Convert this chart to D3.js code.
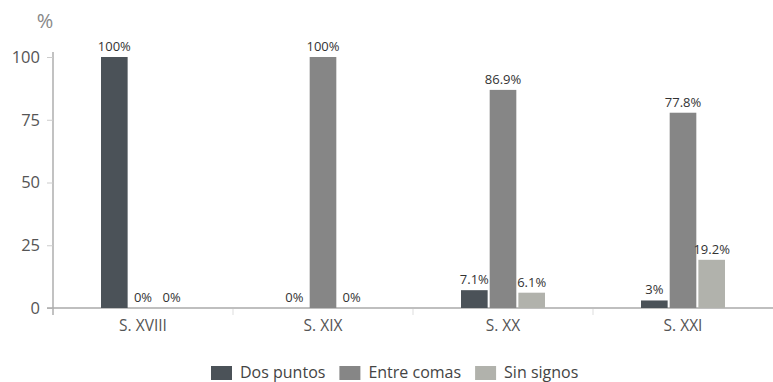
<!DOCTYPE html>
<html>
<head>
<meta charset="utf-8">
<script src="https://cdn.jsdelivr.net/npm/d3@7"></script>
<style>
  body { margin: 0; background: #fff; }
  svg { display: block; font-family: "Open Sans", sans-serif; }
</style>
</head>
<body>
<svg id="chart" width="773" height="382"></svg>
<script>
const categories = ["S. XVIII", "S. XIX", "S. XX", "S. XXI"];
const seriesNames = ["Dos puntos", "Entre comas", "Sin signos"];
const dosPuntos = [100, 0, 7.1, 3];
const entreComas = [0, 100, 86.9, 77.8];
const sinSignos = [0, 0, 6.1, 19.2];
const yTicks = [0, 25, 50, 75, 100];
const colors = ["#4b5258", "#868686", "#b1b2ac"];

const series = [dosPuntos, entreComas, sinSignos];
const svg = d3.select("#chart");

const x0 = d3.scaleBand().domain(categories).range([53, 773]).paddingInner(0).paddingOuter(0);
const y = d3.scaleLinear().domain([0, 100]).range([308, 57]);
const step = 28;
const x1 = d3.scaleBand().domain(seriesNames).range([-step * 1.5, step * 1.5]).paddingInner(2 / step).paddingOuter(0);

// y axis
const yAxis = svg.append("g").attr("transform", "translate(53,0)")
  .call(d3.axisLeft(y).tickValues(yTicks).tickSize(6).tickPadding(7).tickFormat(d3.format("d")));
yAxis.select(".domain").attr("d", "M0,52V315").attr("stroke", "#999").attr("stroke-width", 1.2);
yAxis.selectAll(".tick line").attr("stroke", "#ccc");
yAxis.selectAll(".tick text").attr("fill", "#555").style("font-size", "16.5px").attr("font-family", "'Open Sans', sans-serif");

// % label
svg.append("text").attr("x", 45).attr("y", 28).attr("text-anchor", "middle")
  .attr("fill", "#888").style("font-size", "20px").text("%");

// x axis
const xAxis = svg.append("g").attr("transform", "translate(0,308)")
  .call(d3.axisBottom(x0).tickSize(0).tickPadding(12));
xAxis.select(".domain").attr("d", "M47,0H773").attr("stroke", "#aaa").attr("stroke-width", 1.5);
xAxis.selectAll(".tick text").attr("fill", "#555").style("font-size", "15.5px").attr("font-family", "'Open Sans', sans-serif");
// boundary ticks between categories
svg.append("g").selectAll("line").data(categories.slice(1)).join("line")
  .attr("x1", d => x0(d)).attr("x2", d => x0(d))
  .attr("y1", 309).attr("y2", 315).attr("stroke", "#ddd");

// bars
const groups = svg.append("g").selectAll("g").data(categories).join("g")
  .attr("transform", d => `translate(${x0(d) + x0.bandwidth() / 2},0)`);

groups.each(function (cat, ci) {
  const g = d3.select(this);
  seriesNames.forEach((s, si) => {
    const v = series[si][ci];
    const bx = x1(s);
    g.append("rect").attr("x", bx).attr("width", x1.bandwidth())
      .attr("y", y(v)).attr("height", y(0) - y(v)).attr("fill", colors[si]);
    g.append("text").attr("x", bx + x1.bandwidth() / 2).attr("y", y(v) - 6)
      .attr("text-anchor", "middle").attr("fill", "#333").style("font-size", "13px")
      .text(d3.format("~f")(v) + "%");
  });
});

// legend
const legend = svg.append("g");
let lx = 211;
seriesNames.forEach((s, i) => {
  legend.append("rect").attr("x", lx).attr("y", 366).attr("width", 21).attr("height", 14).attr("fill", colors[i]);
  const t = legend.append("text").attr("x", lx + 29).attr("y", 378).attr("fill", "#444")
    .style("font-size", "16px").text(s);
  lx += 29 + t.node().getComputedTextLength() + 14;
});
</script>
</body>
</html>
